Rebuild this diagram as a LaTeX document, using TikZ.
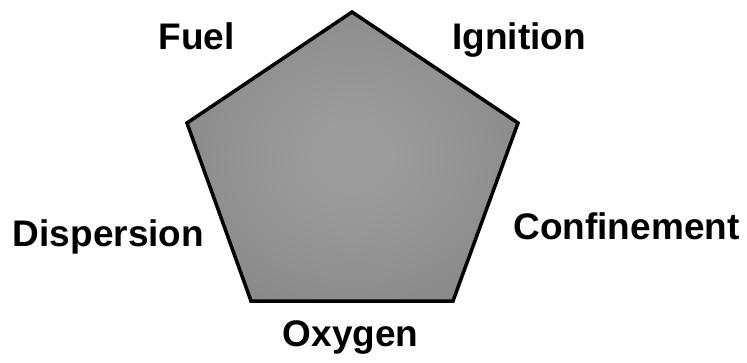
\documentclass[tikz,border=0pt]{standalone}
\usepackage{fontspec}
\setmainfont{Liberation Sans}
\definecolor{pcin}{RGB}{156,156,156}
\definecolor{pcout}{RGB}{116,116,116}
\pgfdeclareradialshading{penta}{\pgfpoint{0bp}{0bp}}{color(0bp)=(pcin); color(6bp)=(pcin); color(55bp)=(pcout)}
\tikzset{
  lbl/.style={anchor=base, inner sep=0pt, font=\fontsize{37}{44}\selectfont\bfseries},
  pent/.style={draw=black, line width=3.5pt, line join=miter, shading=penta}
}
\begin{document}
\begin{tikzpicture}[x=1pt,y=-1pt]
\useasboundingbox (0,0) rectangle (747,362);
\coordinate (t) at (352,12);
\coordinate (ur) at (518,123);
\coordinate (lr) at (453,301);
\coordinate (ll) at (251,301);
\coordinate (ul) at (187,123);
\path[pent] (t) -- (ur) -- (lr) -- (ll) -- (ul) -- cycle;
\node[lbl] (fuel) at (196.5,49) {Fuel};
\node[lbl] (ign) at (519,49) {Ignition};
\node[lbl] (disp) at (108.5,246) {Dispersion};
\node[lbl] (conf) at (626.5,239) {Confinement};
\node[lbl] (oxy) at (350.5,346) {Oxygen};
\end{tikzpicture}
\end{document}
